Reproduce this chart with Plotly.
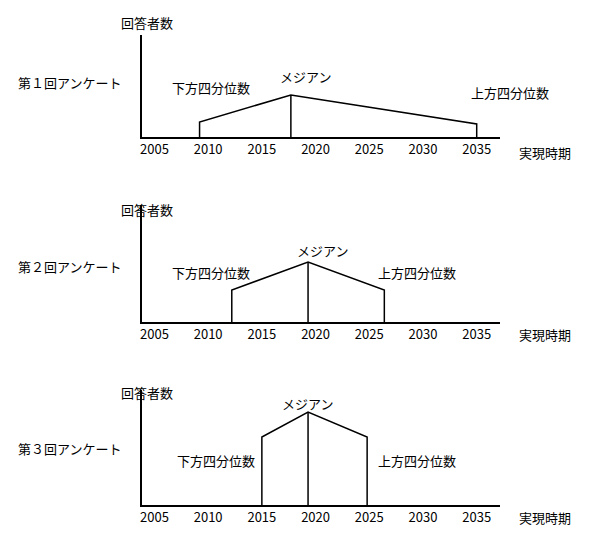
import plotly.graph_objects as go

W, H = 593, 547
years = [2005, 2010, 2015, 2020, 2025, 2030, 2035]
tick_labels = [str(y) for y in years]
surveys = ["第１回アンケート", "第２回アンケート", "第３回アンケート"]
lower_q = [2009.2, 2012.2, 2015.0]
median = [2017.7, 2019.3, 2019.3]
upper_q = [2035.0, 2026.4, 2024.8]
h_lower = [15, 32, 68]
h_median = [42, 60, 93]
h_upper = [13, 32, 68]
y_top = [102, 117, 115]

OFF = 8  # page body margin compensation
base_px = [137 - OFF, 322 - OFF, 505 - OFF]
x0px, x1px = 140 - OFF, 500 - OFF
FONT = "Noto Sans CJK JP"

def px(x, y):
    return (x - OFF) / W, 1 - (y - OFF) / H

fig = go.Figure()
for i in range(3):
    xa = "x" if i == 0 else f"x{i+1}"
    ya = "y" if i == 0 else f"y{i+1}"
    xs = [lower_q[i], lower_q[i], median[i], upper_q[i], upper_q[i], None, median[i], median[i]]
    ys = [0, h_lower[i], h_median[i], h_upper[i], 0, None, 0, h_median[i]]
    fig.add_trace(go.Scatter(x=xs, y=ys, mode="lines", line=dict(color="black", width=1.5),
                             xaxis=xa, yaxis=ya, showlegend=False, hoverinfo="skip"))
    top_px = base_px[i] - y_top[i]
    dom = [1 - base_px[i] / H, 1 - top_px / H]
    fig.layout[f"xaxis{'' if i == 0 else i+1}"] = dict(
        domain=[x0px / W, x1px / W], range=[2003.8, 2037.2], anchor=ya,
        tickvals=years, ticktext=tick_labels, ticks="", showgrid=False, zeroline=False,
        showline=True, linecolor="black", linewidth=1.5,
        tickfont=dict(family=FONT, size=13, color="black"))
    fig.layout[f"yaxis{'' if i == 0 else i+1}"] = dict(
        domain=dom, range=[0, y_top[i]], anchor=xa, showticklabels=False, ticks="",
        showgrid=False, zeroline=False, showline=True, linecolor="black", linewidth=1.5)

ann = []
def add(text, x, y, xanchor="center"):
    ax, ay = px(x, y)
    ann.append(dict(text=text, x=ax, y=ay, xref="paper", yref="paper", showarrow=False,
                    xanchor=xanchor, yanchor="middle", font=dict(family=FONT, size=13, color="black")))

pos = [
    dict(r=22, s=82, lo=(210, 88), me=(305, 76), up=(510, 92), t=152),
    dict(r=210, s=266, lo=(210, 272), me=(322, 250), up=(416, 272), t=334),
    dict(r=392, s=448, lo=(215, 460), me=(307, 403), up=(416, 460), t=517),
]
for i, p in enumerate(pos):
    add("回答者数", 145, p["r"])
    add(surveys[i], 68, p["s"])
    add("下方四分位数", *p["lo"])
    add("メジアン", *p["me"])
    add("上方四分位数", *p["up"])
    add("実現時期", 545, p["t"])

fig.update_layout(width=W, height=H, margin=dict(l=0, r=0, t=0, b=0),
                  paper_bgcolor="white", plot_bgcolor="white", annotations=ann)
fig.write_html("out.html")
